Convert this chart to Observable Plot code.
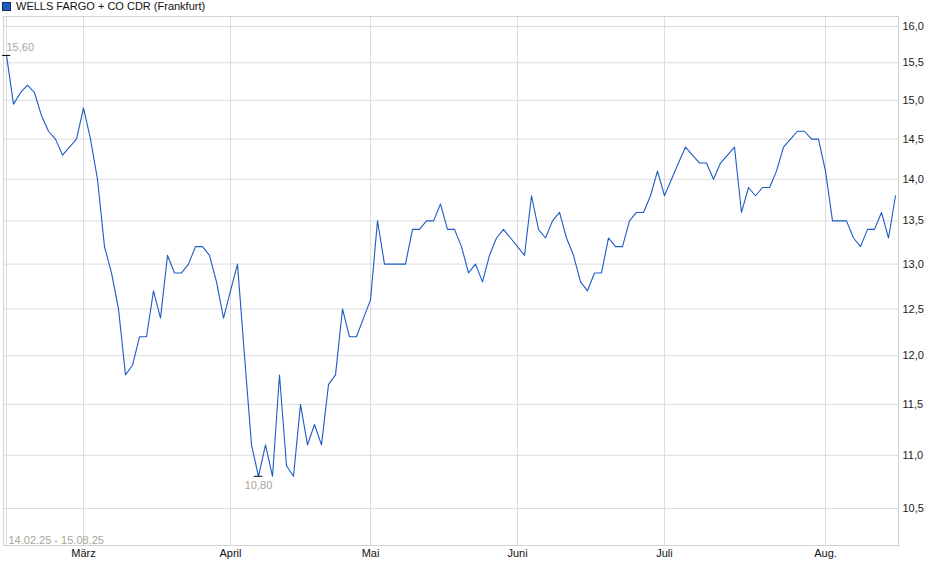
<!DOCTYPE html>
<html>
<head>
<meta charset="utf-8">
<script src="https://cdn.jsdelivr.net/npm/d3@7"></script>
<script src="https://cdn.jsdelivr.net/npm/@observablehq/plot@0.6"></script>
<style>
  html, body { margin: 0; padding: 0; background: #fff; }
  #wrap { position: relative; width: 940px; height: 579px; font-family: "Liberation Sans", Arial, sans-serif; }
  #legend { position: absolute; left: 2px; top: 0px; font-size: 11px; color: #111; line-height: 12px; display: flex; align-items: center; z-index: 2; }
  #legend .sw { width: 7px; height: 7px; background: #1f5bc8; border: 1px solid #1a2a50; margin-right: 5px; }
</style>
</head>
<body>
<div id="wrap">
  <div id="legend"><span class="sw"></span><span id="legendText"></span></div>
  <div id="chart"></div>
</div>
<script>
const seriesName = "WELLS FARGO + CO CDR (Frankfurt)";
const dateRange = ["14.02.25", "15.08.25"];

// closing prices, one per trading day (14.02.25 .. 15.08.25)
const prices = [
  15.6, 14.95, 15.1, 15.2, 15.1, 14.8, 14.6, 14.5, 14.3, 14.4,
  14.5, 14.9, 14.5, 14.0, 13.2, 12.9, 12.5, 11.8, 11.9, 12.2,
  12.2, 12.7, 12.4, 13.1, 12.9, 12.9, 13.0, 13.2, 13.2, 13.1,
  12.8, 12.4, 12.7, 13.0, 12.0, 11.1, 10.8, 11.1, 10.8, 11.8,
  10.9, 10.8, 11.5, 11.1, 11.3, 11.1, 11.7, 11.8, 12.5, 12.2,
  12.2, 12.4, 12.6, 13.5, 13.0, 13.0, 13.0, 13.0, 13.4, 13.4,
  13.5, 13.5, 13.7, 13.4, 13.4, 13.2, 12.9, 13.0, 12.8, 13.1,
  13.3, 13.4, 13.3, 13.2, 13.1, 13.8, 13.4, 13.3, 13.5, 13.6,
  13.3, 13.1, 12.8, 12.7, 12.9, 12.9, 13.3, 13.2, 13.2, 13.5,
  13.6, 13.6, 13.8, 14.1, 13.8, 14.0, 14.2, 14.4, 14.3, 14.2,
  14.2, 14.0, 14.2, 14.3, 14.4, 13.6, 13.9, 13.8, 13.9, 13.9,
  14.1, 14.4, 14.5, 14.6, 14.6, 14.5, 14.5, 14.1, 13.5, 13.5,
  13.5, 13.3, 13.2, 13.4, 13.4, 13.6, 13.3, 13.8
];

// trading-day index of the first session of each month
const monthIndex = [11, 32, 52, 73, 94, 117];
const monthLabels = ["März", "April", "Mai", "Juni", "Juli", "Aug."];

const yTicks = [10.5, 11.0, 11.5, 12.0, 12.5, 13.0, 13.5, 14.0, 14.5, 15.0, 15.5, 16.0];
const yDomain = [10.166, 16.14];

document.getElementById("legendText").textContent = seriesName;

const data = prices.map((v, i) => ({i, v}));
const maxPt = data[d3.maxIndex(prices)];
const minPt = data[d3.minIndex(prices)];
const fmt1 = d => d.toFixed(1).replace(".", ",");
const fmt2 = d => d.toFixed(2).replace(".", ",");
const n = prices.length;
const annColor = "#a9a39b";
const gridColor = "#dcdcdc";

const chart = Plot.plot({
  width: 940,
  height: 579,
  marginLeft: 3,
  marginRight: 42,
  marginTop: 16,
  marginBottom: 34,
  style: {fontFamily: "'Liberation Sans', Arial, sans-serif", fontSize: "11px", background: "transparent", overflow: "visible"},
  x: {domain: [-3/7, (n - 1) + 3/7], axis: null},
  y: {type: "log", domain: yDomain, axis: null},
  marks: [
    Plot.gridY(yTicks, {stroke: gridColor, strokeOpacity: 1}),
    Plot.ruleX([0, ...monthIndex], {stroke: gridColor, strokeOpacity: 1}),
    Plot.frame({stroke: "#d2d2d2"}),
    Plot.axisY(yTicks, {anchor: "right", label: null, tickSize: 0, tickPadding: 4, tickFormat: fmt1, fill: "#222"}),
    Plot.axisX(monthIndex, {anchor: "bottom", label: null, tickSize: 0, tickPadding: 4, tickFormat: d => monthLabels[monthIndex.indexOf(d)], fill: "#111"}),
    Plot.text([dateRange.join(" - ")], {frameAnchor: "bottom-left", dx: 5, dy: -2, textAnchor: "start", lineAnchor: "bottom", fill: annColor}),
    Plot.line(data, {x: "i", y: "v", stroke: "#1c5bc6", strokeWidth: 1.1}),
    Plot.ruleY([maxPt], {x1: d => d.i - 0.55, x2: d => d.i + 0.6, y: "v", stroke: "#000"}),
    Plot.text([maxPt], {x: "i", y: "v", text: d => fmt2(d.v), textAnchor: "start", lineAnchor: "bottom", dy: -4, fill: annColor}),
    Plot.ruleY([minPt], {x1: d => d.i - 0.6, x2: d => d.i + 0.6, y: "v", stroke: "#000"}),
    Plot.text([minPt], {x: "i", y: "v", text: d => fmt2(d.v), textAnchor: "middle", lineAnchor: "top", dy: 5, fill: annColor})
  ]
});
chart.style.position = "absolute";
chart.style.left = "0";
chart.style.top = "0";
document.getElementById("chart").appendChild(chart);
</script>
</body>
</html>
